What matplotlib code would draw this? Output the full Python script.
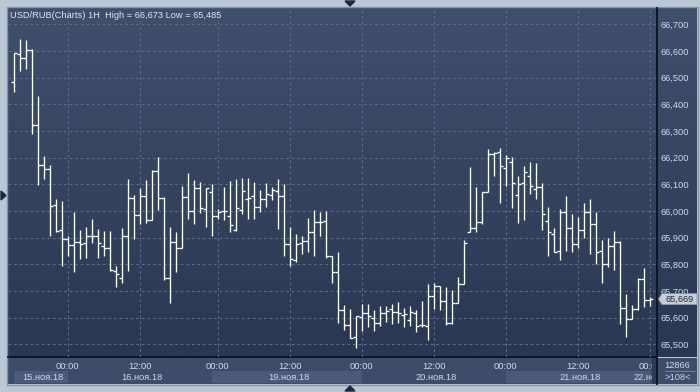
import matplotlib
matplotlib.use('Agg')
import matplotlib.pyplot as plt
import numpy as np
from matplotlib.patches import Rectangle, Polygon
from matplotlib.colors import LinearSegmentedColormap
import matplotlib.transforms as mtransforms

plt.rcParams['font.family'] = ['Liberation Sans', 'DejaVu Sans']

# ---------------- data ----------------
opens = [66482, 66589, 66572, 66604, 66321, 66171, 66156, 66021, 65928, 65894,
         65872, 65882, 65879, 65904, 65907, 65869, 65860, 65776, 65750, 65904,
         66047, 65984, 66054, 65966, 66151, 66049, 65747, 65882, 65859, 66051,
         66000, 66087, 66007, 66070, 65981, 65999, 65981, 65929, 66004, 66044,
         66054, 66016, 66044, 66060, 66075, 66054, 65875, 65816, 65879, 65887,
         65921, 65959, 65962, 65829, 65769, 65629, 65572, 65527, 65601, 65616,
         65597, 65579, 65616, 65631, 65622, 65610, 65591, 65616, 65571, 65569,
         65681, 65720, 65662, 65579, 65656, 65725, 65922, 65935, 65960, 66070,
         66214, 66221, 66160, 66182, 66059, 66104, 66131, 66081, 66089, 65962,
         65912, 65850, 65997, 65935, 65876, 65929, 65995, 65951, 65849, 65800,
         65867, 65884, 65636, 65596, 65632, 65745, 65666]
highs = [66594, 66644, 66641, 66606, 66431, 66206, 66172, 66045, 66037, 65906,
         65994, 65929, 65939, 65970, 65931, 65925, 65925, 65794, 65935, 66120,
         66060, 66087, 66116, 66154, 66204, 66051, 65939, 65921, 66094, 66141,
         66116, 66109, 66087, 66100, 66006, 66089, 66112, 66120, 66125, 66122,
         66107, 66079, 66106, 66091, 66119, 66101, 65939, 65914, 65906, 65972,
         66002, 65994, 66000, 65831, 65847, 65647, 65632, 65604, 65650, 65651,
         65629, 65644, 65644, 65651, 65659, 65637, 65644, 65629, 65662, 65725,
         65729, 65720, 65716, 65704, 65751, 65891, 66164, 66089, 66070, 66231,
         66221, 66236, 66209, 66202, 66131, 66169, 66182, 66179, 66106, 66015,
         65934, 66007, 66056, 65987, 65976, 66029, 66044, 65996, 65891, 65897,
         65925, 65887, 65689, 65647, 65747, 65787, 65676]
lows = [66447, 66526, 66534, 66287, 66096, 66121, 65907, 65920, 65795, 65831,
        65769, 65821, 65824, 65879, 65824, 65832, 65776, 65714, 65731, 65776,
        65894, 65951, 65956, 65966, 66004, 65741, 65656, 65772, 65859, 65969,
        65950, 65991, 65939, 65907, 65970, 65966, 65922, 65926, 65989, 65970,
        65970, 65997, 66016, 66041, 65932, 65829, 65795, 65810, 65840, 65847,
        65829, 65904, 65822, 65731, 65581, 65554, 65522, 65485, 65551, 65566,
        65551, 65570, 65585, 65576, 65579, 65566, 65569, 65544, 65566, 65516,
        65631, 65629, 65572, 65576, 65654, 65725, 65919, 65920, 65950, 66070,
        66132, 66029, 66095, 66010, 65956, 65964, 66062, 66044, 65929, 65832,
        65847, 65814, 65851, 65847, 65859, 65897, 65839, 65801, 65729, 65791,
        65779, 65576, 65526, 65594, 65629, 65641, 65645]
closes = [66591, 66572, 66604, 66321, 66171, 66156, 66019, 65925, 65894, 65872,
          65882, 65876, 65904, 65907, 65881, 65860, 65779, 65762, 65904, 66047,
          65984, 66054, 65964, 66151, 66049, 65747, 65882, 65859, 66051, 66000,
          66085, 66010, 66085, 65979, 65994, 66000, 65946, 66010, 66075, 66047,
          66016, 66044, 66064, 66079, 66054, 65875, 65820, 65875, 65887, 65921,
          65959, 65960, 65829, 65769, 65629, 65572, 65525, 65604, 65616, 65607,
          65579, 65616, 65625, 65622, 65616, 65614, 65619, 65569, 65571, 65681,
          65720, 65662, 65579, 65656, 65725, 65879, 65935, 65960, 66070, 66214,
          66216, 66169, 66197, 66104, 66100, 66145, 66094, 66089, 65987, 65921,
          65847, 65997, 65937, 65876, 65929, 65997, 65951, 65846, 65800, 65867,
          65884, 65636, 65594, 65632, 65745, 65666, 65669]

grid_idx = [9, 21, 34, 46, 58, 70, 82, 94, 106]
time_labels = ['00:00', '12:00', '00:00', '12:00', '00:00', '12:00', '00:00', '12:00', '00:00']
day_starts = [0, 9, 33, 58, 82, 106]
day_labels = ['15.ноя.18', '16.ноя.18', '19.ноя.18', '20.ноя.18', '21.ноя.18', '22.ноя.18']
price_ticks = list(range(65500, 66701, 100))
title = "USD/RUB(Charts) 1H  High = 66,673 Low = 65,485"
last_price = 65669
bar_count_text = "12866"
zoom_text = ">108<"

# ---------------- style ----------------
FRAME = '#bcc7d6'
TOP = '#404f6c'
BOT = '#2a3752'
AXBG = '#3d4c68'
DAYBOX = '#4b5a78'
TXT = '#cdd9ee'
GRID = '#5b6a88'
DARK = '#0b1220'

W, H = 700, 392
fig = plt.figure(figsize=(7, 3.92), dpi=100)
fig.patch.set_facecolor(FRAME)

def fx(x):
    return x / W

def fy(y):
    return 1 - y / H

# background layer in pixel coordinates
bg = fig.add_axes([0, 0, 1, 1], zorder=-10)
bg.axis('off')
grad = np.linspace(0, 1, 256)[:, None]
cmap = LinearSegmentedColormap.from_list('g', [TOP, BOT])
bg.imshow(grad, extent=[8, 697, 357, 8], cmap=cmap, aspect='auto', zorder=1, interpolation='bilinear')
bg.add_patch(Rectangle((8, 357), 649, 27, facecolor=AXBG, edgecolor='none', zorder=2))
bg.add_patch(Rectangle((6.5, 6.5), 691, 378.5, facecolor='none', edgecolor='#8593aa', lw=1, zorder=3))
bg.plot([8, 657], [357, 357], color=DARK, lw=1.3, zorder=4)
# small navigation triangles
bg.add_patch(Polygon([[345, 1], [355, 1], [350, 6]], closed=True, color='#1e2940', zorder=4))
bg.add_patch(Polygon([[345, 391], [355, 391], [350, 386]], closed=True, color='#1e2940', zorder=4))
bg.add_patch(Polygon([[1, 191], [1, 200], [6, 195.5]], closed=True, color='#1e2940', zorder=4))
bg.set_xlim(0, W)
bg.set_ylim(H, 0)

# main plot axes
ax = fig.add_axes([fx(8), fy(357), (657 - 8) / W, (357 - 8) / H], zorder=0)
ax.set_facecolor('none')
for s in ax.spines.values():
    s.set_visible(False)
ax.set_xlim(-0.95, 107.17)
ax.set_ylim(65452, 66761)

idx = np.arange(len(opens))
for p in price_ticks:
    ax.axhline(p, color=GRID, lw=0.8, ls=(0, (2.5, 2.5)), zorder=1)
for g in grid_idx:
    ax.axvline(g, color=GRID, lw=0.8, ls=(0, (2.5, 2.5)), zorder=1)

ax.vlines(idx, lows, highs, color='white', lw=0.95, zorder=3)
ax.hlines(opens, idx - 0.5, idx, color='white', lw=0.95, zorder=3)
ax.hlines(closes, idx, idx + 0.5, color='white', lw=0.95, zorder=3)

ax.yaxis.tick_right()
ax.set_yticks(price_ticks)
ax.set_yticklabels([f"{p:,}" for p in price_ticks])
ax.tick_params(axis='y', length=0, pad=2.3, labelsize=6.7, labelcolor=TXT)
ax.set_xticks(grid_idx)
ax.set_xticklabels(time_labels)
ax.tick_params(axis='x', length=0, pad=3.6, labelsize=6.7, labelcolor=TXT)

# day boxes below time labels
trans = mtransforms.blended_transform_factory(ax.transData, ax.transAxes)
y0 = -(383.3 - 357) / 349
hbox = (383.3 - 371) / 349
ends = day_starts[1:] + [107.17]
clip_rect = Rectangle((8, 357), 644, 28, transform=bg.transData, visible=False)
for i, (s, e, lab) in enumerate(zip(day_starts, ends, day_labels)):
    if i % 2 == 0:
        ax.add_patch(Rectangle((s, y0), e - s, hbox, transform=trans, facecolor=DAYBOX,
                               edgecolor='none', clip_on=False, zorder=2))
    if i < len(day_labels) - 1:
        ax.text((s + e) / 2 + 0.3, y0 + hbox / 2, lab, transform=trans, ha='center', va='center',
                fontsize=6.7, color=TXT, clip_on=False)
    else:
        t = ax.text(s - 2.8, y0 + hbox / 2, lab, transform=trans, ha='left', va='center',
                    fontsize=6.7, color=TXT)
        t.set_clip_path(clip_rect)

fig.text(fx(10.5), fy(15), title, ha='left', va='center', fontsize=6.7, color='#dfe6f1')

# corner cover (clips time labels at the right)
cv = fig.add_axes([fx(652), fy(385), (698 - 652) / W, (385 - 357) / H], zorder=5)
cv.axis('off')
cv.set_xlim(652, 698)
cv.set_ylim(385, 357)
cv.add_patch(Rectangle((652, 357.7), 5, 26, facecolor='#2c3a54', edgecolor='none'))
cv.add_patch(Rectangle((657, 357.7), 40, 26.3, facecolor=AXBG, edgecolor='none'))
cv.plot([657, 657], [357, 384], color=DARK, lw=1.3)
cv.plot([665, 695], [371, 371], color='#6d7c98', lw=0.8)
cv.text(677.5, 365, bar_count_text, ha='center', va='center', fontsize=6.7, color=TXT)
cv.text(677.5, 377.5, zoom_text, ha='center', va='center', fontsize=6.7, color=TXT)

# right vertical separator
fig.add_artist(plt.Line2D([fx(657), fx(657)], [fy(357), fy(8)], color=DARK, lw=1.3, zorder=6))

# last price marker
mt = mtransforms.blended_transform_factory(fig.transFigure, ax.transData)
hh = 5.5 * (66761 - 65452) / 349
marker = Polygon([[fx(658.5), last_price], [fx(662), last_price + hh], [fx(697), last_price + hh],
                  [fx(697), last_price - hh], [fx(662), last_price - hh]], closed=True,
                 transform=mt, facecolor='#c9cdd6', edgecolor='#8c96a8', lw=0.6, zorder=10)
fig.add_artist(marker)
fig.text(fx(679.5), last_price, f"{last_price:,}", transform=mt, ha='center', va='center',
         fontsize=6.7, color='#1a2842', zorder=11)

fig.savefig('out.png', dpi=100, facecolor=FRAME)
